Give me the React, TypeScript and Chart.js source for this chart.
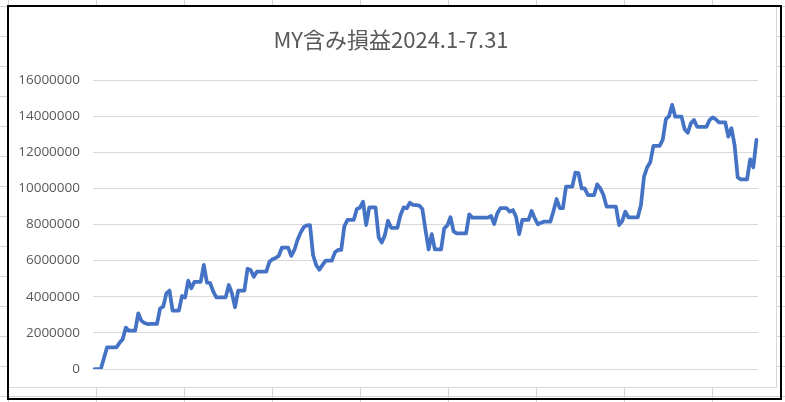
import React, { useEffect, useRef } from "react";
import { Chart, registerables } from "chart.js";

Chart.register(...registerables);

const TITLE = "MY含み損益2024.1-7.31";
const YEAR = 2024;
const MONTH_DAYS = [31, 29, 31, 30, 31, 30, 31];

// 含み損益 (yen), one value per calendar day, 2024/1/1 - 2024/7/31
const JAN = [
  0, 0, 0, 600000, 1200000, 1200000, 1200000, 1200000, 1450000, 1650000, 2290000,
  2120000, 2120000, 2120000, 3080000, 2670000, 2550000, 2490000, 2500000, 2500000,
  2500000, 3360000, 3450000, 4190000, 4340000, 3230000, 3230000, 3230000, 4040000,
  3960000, 4890000,
];
const FEB = [
  4470000, 4830000, 4830000, 4830000, 5760000, 4780000, 4760000, 4300000, 3970000,
  3970000, 3970000, 3970000, 4650000, 4190000, 3420000, 4340000, 4340000, 4340000,
  5550000, 5480000, 5110000, 5390000, 5390000, 5390000, 5390000, 5940000, 6080000,
  6150000, 6260000,
];
const MAR = [
  6720000, 6720000, 6720000, 6260000, 6590000, 7140000, 7550000, 7850000, 7950000,
  7970000, 6300000, 5750000, 5500000, 5750000, 6000000, 6000000, 6000000, 6460000,
  6590000, 6590000, 7900000, 8250000, 8250000, 8250000, 8860000, 8930000, 9260000,
  7970000, 8950000, 8950000, 8950000,
];
const APR = [
  7290000, 7000000, 7420000, 8210000, 7820000, 7820000, 7820000, 8530000, 8950000,
  8900000, 9210000, 9080000, 9070000, 9050000, 8860000, 7700000, 6620000, 7470000,
  6620000, 6620000, 6620000, 7790000, 7950000, 8400000, 7620000, 7510000, 7510000,
  7510000, 7510000, 8560000,
];
const MAY = [
  8380000, 8380000, 8380000, 8380000, 8380000, 8380000, 8470000, 8030000, 8620000,
  8900000, 8900000, 8900000, 8710000, 8800000, 8430000, 7470000, 8250000, 8250000,
  8250000, 8750000, 8340000, 8010000, 8100000, 8160000, 8160000, 8160000, 8750000,
  9410000, 8900000, 8900000, 10090000,
];
const JUN = [
  10090000, 10090000, 10870000, 10850000, 10000000, 10000000, 9630000, 9630000,
  9630000, 10220000, 10000000, 9630000, 8990000, 8990000, 8990000, 8990000, 7970000,
  8190000, 8710000, 8400000, 8400000, 8400000, 8400000, 9080000, 10650000, 11170000,
  11450000, 12350000, 12350000, 12350000,
];
const JUL = [
  12700000, 13830000, 14000000, 14620000, 13970000, 13970000, 13970000, 13270000,
  13080000, 13600000, 13790000, 13410000, 13410000, 13410000, 13410000, 13790000,
  13930000, 13820000, 13660000, 13660000, 13660000, 12860000, 13330000, 12400000,
  10610000, 10500000, 10500000, 10500000, 11610000, 11170000, 12680000,
];

const Y_TICKS = [0, 2000000, 4000000, 6000000, 8000000, 10000000, 12000000, 14000000, 16000000];

const CATEGORIES: string[] = [];
MONTH_DAYS.forEach((n, m) => {
  for (let d = 1; d <= n; d++) CATEGORIES.push(`${YEAR}/${m + 1}/${d}`);
});
const VALUES = [...JAN, ...FEB, ...MAR, ...APR, ...MAY, ...JUN, ...JUL];

const TEXT_COLOR = "#595959";
const GRID_COLOR = "#D9D9D9";
const LINE_COLOR = "#4472C4";

export default function App() {
  const ref = useRef<HTMLCanvasElement | null>(null);

  useEffect(() => {
    if (!ref.current) return;
    const chart = new Chart(ref.current, {
      type: "line",
      data: {
        labels: CATEGORIES,
        datasets: [
          {
            label: TITLE,
            data: VALUES,
            borderColor: LINE_COLOR,
            backgroundColor: LINE_COLOR,
            borderWidth: 3.75,
            pointRadius: 0,
            pointHoverRadius: 0,
            tension: 0,
            fill: false,
            borderJoinStyle: "round",
            borderCapStyle: "round",
            yAxisID: "y",
          },
        ],
      },
      options: {
        responsive: false,
        animation: false,
        layout: { padding: { left: 0, right: 3, top: 0, bottom: 18 } },
        plugins: {
          legend: { display: false },
          tooltip: { enabled: false },
          title: {
            display: true,
            text: TITLE,
            color: TEXT_COLOR,
            font: { family: '"Noto Sans CJK JP", sans-serif', size: 22, weight: "normal", lineHeight: 1.2 },
            padding: { top: 19.8, bottom: 26.8 },
          },
        },
        scales: {
          x: { display: false, offset: true },
          y: {
            position: "left",
            min: 0,
            max: 16000000,
            afterBuildTicks: (s: any) => {
              s.ticks = Y_TICKS.map((v) => ({ value: v }));
            },
            afterFit: (s: any) => {
              s.width = 84;
            },
            grid: {
              color: GRID_COLOR,
              lineWidth: 1,
              drawTicks: true,
              tickLength: 8,
              tickColor: "rgba(0,0,0,0)",
            },
            border: { display: false },
            ticks: {
              color: TEXT_COLOR,
              font: { family: '"Open Sans", sans-serif', size: 13.5 },
              padding: 5,
              callback: (v: any) => String(v),
            },
          },
          yRightSpace: {
            type: "linear",
            position: "right",
            display: true,
            grid: { display: false, drawTicks: false },
            border: { display: false },
            ticks: { display: false },
            afterFit: (s: any) => {
              s.width = 15;
            },
          },
        },
      },
    });
    return () => chart.destroy();
  }, []);

  return (
    <div
      style={{
        position: "absolute",
        left: 0,
        top: 0,
        width: 785,
        height: 402,
        overflow: "hidden",
        backgroundColor: "#fff",
        backgroundImage:
          "linear-gradient(to right, #D4D4D4 1px, transparent 1px), linear-gradient(to bottom, #D4D4D4 1px, transparent 1px)",
        backgroundSize: "88px 30px",
        backgroundPosition: "8px 6px",
      }}
    >
      <div
        style={{
          position: "absolute",
          left: 8,
          top: 6,
          width: 769,
          height: 382,
          background: "#fff",
          border: "1px solid #D9D9D9",
          boxSizing: "border-box",
        }}
      >
        <canvas ref={ref} width={767} height={380} style={{ display: "block", width: 767, height: 380 }} />
      </div>
      <div
        style={{
          position: "absolute",
          left: 7,
          top: 5,
          width: 775,
          height: 395,
          border: "2px solid #000",
          boxSizing: "border-box",
          pointerEvents: "none",
        }}
      />
    </div>
  );
}
